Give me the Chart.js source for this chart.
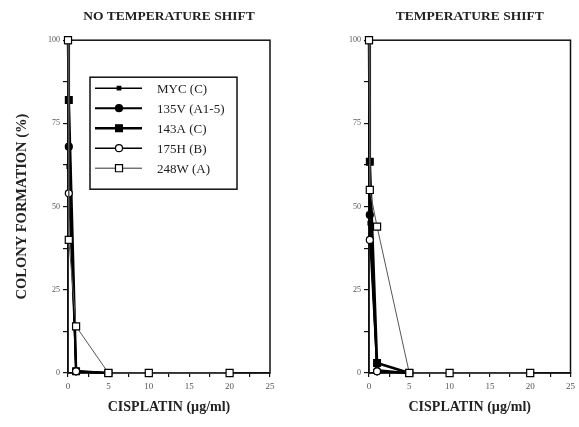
<!DOCTYPE html>
<html>
<head>
<meta charset="utf-8">
<script src="https://cdn.jsdelivr.net/npm/chart.js@4"></script>
<style>
  body { margin: 0; background: #fff; width: 579px; height: 427px; overflow: hidden; position: relative; }
  canvas { position: absolute; top: 0; }
</style>
</head>
<body>
<canvas id="noShift" width="290" height="427" style="left:0"></canvas>
<canvas id="shift" width="289" height="427" style="left:290px"></canvas>
<script>
// doses (µg/ml)
const dosesShort = [0, 0.1, 1, 5];
const dosesLong = [0, 0.1, 1, 5, 10, 20];

const seriesLabels = ['MYC (C)', '135V (A1-5)', '143A (C)', '175H (B)', '248W (A)'];

// colony formation (%) - no temperature shift
const noShiftMYC = [100, 62, 0.5, 0];
const noShift135V = [100, 68, 0.5, 0];
const noShift143A = [100, 82, 0.5, 0];
const noShift175H = [100, 54, 0.5, 0];
const noShift248W = [100, 40, 14, 0, 0, 0];

// colony formation (%) - temperature shift
const shiftMYC = [100, 45, 1, 0];
const shift135V = [100, 47.5, 0.5, 0];
const shift143A = [100, 63.5, 3, 0];
const shift175H = [100, 40, 0.5, 0];
const shift248W = [100, 55, 44, 0, 0, 0];

const yTicks = [0, 25, 50, 75, 100];
const xTicks = [0, 5, 10, 15, 20, 25];

const styles = [
  { pointStyle: 'rect', radius: 2.5, fill: '#000', line: '#000', width: 1.5 },
  { pointStyle: 'circle', radius: 3.5, fill: '#000', line: '#000', width: 2 },
  { pointStyle: 'rect', radius: 4.8, fill: '#000', line: '#000', width: 2.5 },
  { pointStyle: 'circle', radius: 3.5, fill: '#fff', line: '#000', width: 1.5 },
  { pointStyle: 'rect', radius: 5, fill: '#fff', line: '#555', width: 1 }
];

function makeDatasets(values) {
  return values.map((vals, i) => {
    const doses = vals.length > 4 ? dosesLong : dosesShort;
    const s = styles[i];
    return {
      label: seriesLabels[i],
      data: vals.map((v, k) => ({ x: doses[k], y: v })),
      borderColor: s.line,
      borderWidth: s.width,
      pointStyle: s.pointStyle,
      pointRadius: s.radius,
      pointBackgroundColor: s.fill,
      pointBorderColor: '#000',
      pointBorderWidth: 1.2,
      order: i === 4 ? 0 : 5 - i,
      clip: false,
      tension: 0
    };
  });
}

const frame = {
  id: 'frame',
  beforeDatasetsDraw(chart) {
    const a = chart.chartArea, ctx = chart.ctx;
    ctx.save();
    ctx.strokeStyle = '#111';
    ctx.lineWidth = 1.5;
    ctx.strokeRect(a.left, a.top, a.right - a.left, a.bottom - a.top);
    ctx.restore();
  }
};

const insideLegend = {
  id: 'insideLegend',
  afterDraw(chart) {
    const a = chart.chartArea, ctx = chart.ctx;
    const bx = a.left + 22, by = a.top + 37, bw = 147, bh = 112;
    ctx.save();
    ctx.fillStyle = '#fff';
    ctx.fillRect(bx, by, bw, bh);
    ctx.strokeStyle = '#111';
    ctx.lineWidth = 1.5;
    ctx.strokeRect(bx, by, bw, bh);
    seriesLabels.forEach((lab, i) => {
      const s = styles[i];
      const y = by + 11 + i * 20;
      ctx.strokeStyle = s.line === '#555' ? '#333' : '#000';
      ctx.lineWidth = s.width;
      ctx.beginPath();
      ctx.moveTo(bx + 5, y);
      ctx.lineTo(bx + 52, y);
      ctx.stroke();
      ctx.fillStyle = s.fill;
      ctx.strokeStyle = '#000';
      ctx.lineWidth = 1.2;
      Chart.helpers.drawPoint(ctx, { pointStyle: s.pointStyle, radius: s.radius, rotation: 0, borderWidth: 1.2 }, bx + 29, y);
      ctx.fillStyle = '#222';
      ctx.font = '13px "Liberation Serif"';
      ctx.textBaseline = 'middle';
      ctx.fillText(lab, bx + 67, y + 1);
    });
    ctx.restore();
  }
};

function makeChart(id, title, values, yWidth, padRight, showYTitle, extraPlugins) {
  return new Chart(document.getElementById(id), {
    type: 'line',
    data: { datasets: makeDatasets(values) },
    options: {
      responsive: false,
      animation: false,
      layout: { padding: { right: padRight, left: 0, top: 0, bottom: 0 } },
      plugins: {
        legend: { display: false },
        tooltip: { enabled: false },
        title: {
          display: true,
          text: title,
          fullSize: false,
          color: '#222',
          font: { family: 'Liberation Serif', size: 13.5, weight: 'bold' },
          padding: { top: 8, bottom: 16 }
        }
      },
      scales: {
        x: {
          type: 'linear',
          min: 0, max: 25,
          afterFit(scale) { scale.height = 54; },
          afterBuildTicks(scale) {
            const t = [];
            for (let v = 0; v <= 25; v += 2.5) t.push({ value: v });
            scale.ticks = t;
          },
          ticks: {
            color: '#555',
            font: { family: 'Liberation Serif', size: 9 },
            padding: 4,
            maxRotation: 0,
            autoSkip: false,
            callback: v => xTicks.includes(v) ? String(v) : ''
          },
          grid: { drawOnChartArea: false, drawTicks: true, tickLength: 4, color: '#111', lineWidth: 1.2 },
          border: { color: '#111', width: 1.5 },
          title: {
            display: true,
            text: 'CISPLATIN (µg/ml)',
            color: '#222',
            font: { family: 'Liberation Serif', size: 14, weight: 'bold' },
            padding: { top: 0, bottom: 11 }
          }
        },
        y: {
          min: 0, max: 100,
          afterFit(scale) { scale.width = yWidth; },
          afterBuildTicks(scale) {
            const t = [];
            for (let v = 0; v <= 100; v += 12.5) t.push({ value: v });
            scale.ticks = t;
          },
          ticks: {
            color: '#555',
            font: { family: 'Liberation Serif', size: 8 },
            padding: 3,
            autoSkip: false,
            callback: v => yTicks.includes(v) ? String(v) : ''
          },
          grid: { drawOnChartArea: false, drawTicks: true, tickLength: 5, color: '#111', lineWidth: 1.2 },
          border: { color: '#111', width: 1.5 },
          title: {
            display: showYTitle,
            text: 'COLONY FORMATION (%)',
            color: '#222',
            font: { family: 'Liberation Serif', size: 14.5, weight: 'bold' },
            padding: { top: 14, bottom: 0 }
          }
        }
      }
    },
    plugins: [frame].concat(extraPlugins)
  });
}

makeChart('noShift', 'NO TEMPERATURE SHIFT',
  [noShiftMYC, noShift135V, noShift143A, noShift175H, noShift248W], 68, 20, true, [insideLegend]);
makeChart('shift', 'TEMPERATURE SHIFT',
  [shiftMYC, shift135V, shift143A, shift175H, shift248W], 79, 6, false, []);
</script>
</body>
</html>
